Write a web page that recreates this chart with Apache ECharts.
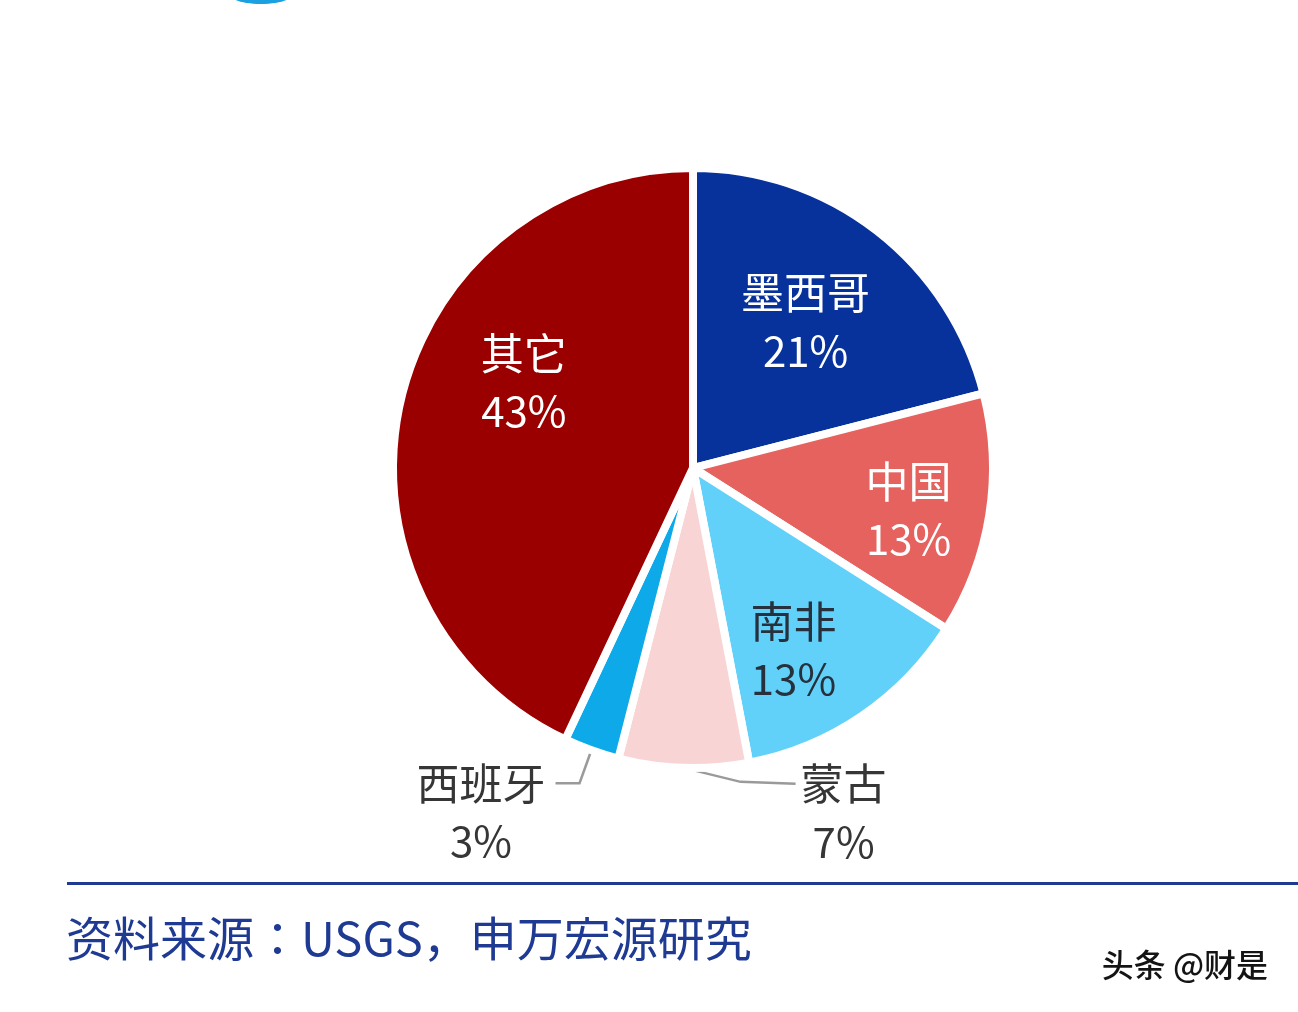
<!DOCTYPE html>
<html><head><meta charset="utf-8">
<script src="https://cdn.jsdelivr.net/npm/echarts@6/dist/echarts.min.js"></script>
<style>html,body{margin:0;padding:0;background:#fff}#c{width:1298px;height:1012px}</style>
</head><body><div id="c"></div>
<script>
// ---- data ----
const categories = ['墨西哥', '中国', '南非', '蒙古', '西班牙', '其它'];
const shares = [21, 13, 13, 7, 3, 43];
const insideLabeled = ['墨西哥', '中国', '南非', '其它'];
const outsideLabeled = ['蒙古', '西班牙'];
const sourceNote = '资料来源：USGS，申万宏源研究';
const watermark = '头条 @财是';

// ---- styles ----
const sliceColors = ['#07319B', '#E5625F', '#62D1F9', '#F9D4D4', '#0DA9E9', '#9A0000'];
const insideTextColors = { '墨西哥': '#ffffff', '中国': '#ffffff', '南非': '#27313d', '其它': '#ffffff' };
// small nudges of the inside labels (pixels), matching the reference placement
const insideLabelNudge = { '墨西哥': [-10, 12], '中国': [18, 11], '南非': [-12, 17], '其它': [26, -42] };
const FONT = '"Noto Sans CJK SC", "Noto Sans", sans-serif';
const CX = 693, CY = 468, R = 300;

const chart = echarts.init(document.getElementById('c'), null, { renderer: 'canvas' });

const fmt = p => `{n|${p.name}}\n{v|${p.value}%}`;
const rich = (color) => ({
  n: { fontSize: 43, lineHeight: 58, align: 'center', color: color, fontFamily: FONT },
  v: { fontSize: 42, lineHeight: 58, align: 'center', color: color, fontFamily: FONT }
});

const option = {
  backgroundColor: '#ffffff',
  animation: false,
  series: [
    {
      type: 'pie',
      center: [CX, CY],
      radius: [0, R],
      startAngle: 90,
      clockwise: true,
      avoidLabelOverlap: false,
      emphasis: { disabled: true },
      itemStyle: { borderColor: '#ffffff', borderWidth: 8 },
      label: {
        show: false,
        position: 'outside',
        formatter: fmt,
        distanceToLabelLine: 10,
        padding: [58, 0, 0, 0],
        rich: rich('#363636')
      },
      labelLine: { show: false, length: 35, length2: 24, smooth: false, lineStyle: { color: '#9a9a9a', width: 2.5 } },
      labelLayout: function (p) {
        if (categories[p.dataIndex] !== '蒙古' || !p.labelLinePoints) return {};
        const e = p.labelLinePoints[0];
        return {
          x: e[0] + 117, y: e[1] + 16, align: 'left', verticalAlign: 'middle',
          labelLinePoints: [[e[0], e[1]], [e[0] + 57, e[1] + 14], [e[0] + 112, e[1] + 16]]
        };
      },
      data: categories.map((n, i) => ({
        name: n,
        value: shares[i],
        itemStyle: { color: sliceColors[i] },
        label: { show: outsideLabeled.includes(n) },
        labelLine: { show: outsideLabeled.includes(n) }
      }))
    },
    {
      // transparent overlay carrying the inside labels a bit further out
      type: 'pie',
      center: [CX, CY],
      radius: [0, 394],
      startAngle: 90,
      clockwise: true,
      silent: true,
      z: 5,
      avoidLabelOverlap: false,
      emphasis: { disabled: true },
      itemStyle: { color: 'rgba(0,0,0,0)', borderWidth: 0 },
      labelLine: { show: false },
      label: { show: false, position: 'inside', formatter: fmt },
      labelLayout: function (p) {
        const d = insideLabelNudge[categories[p.dataIndex]];
        return d ? { dx: d[0], dy: d[1] } : {};
      },
      data: categories.map((n, i) => ({
        name: n,
        value: shares[i],
        label: insideLabeled.includes(n)
          ? { show: true, rich: rich(insideTextColors[n]) }
          : { show: false }
      }))
    }
  ],
  graphic: [
    { type: 'ellipse', shape: { cx: 261, cy: -6, rx: 32, ry: 10 }, style: { fill: '#1BA1E2' } },
    { type: 'rect', shape: { x: 67, y: 882, width: 1231, height: 3 }, style: { fill: '#1F3A93' } },
    { type: 'text', left: 66, top: 915, style: { text: sourceNote, font: '47px "Noto Sans CJK JP", "Noto Sans CJK SC", sans-serif', fill: '#1F3A93' } },
    { type: 'text', right: 30, top: 949, style: { text: watermark, font: '500 32px ' + FONT, fill: '#141414' } }
  ]
};
chart.setOption(option);
</script>
</body></html>
